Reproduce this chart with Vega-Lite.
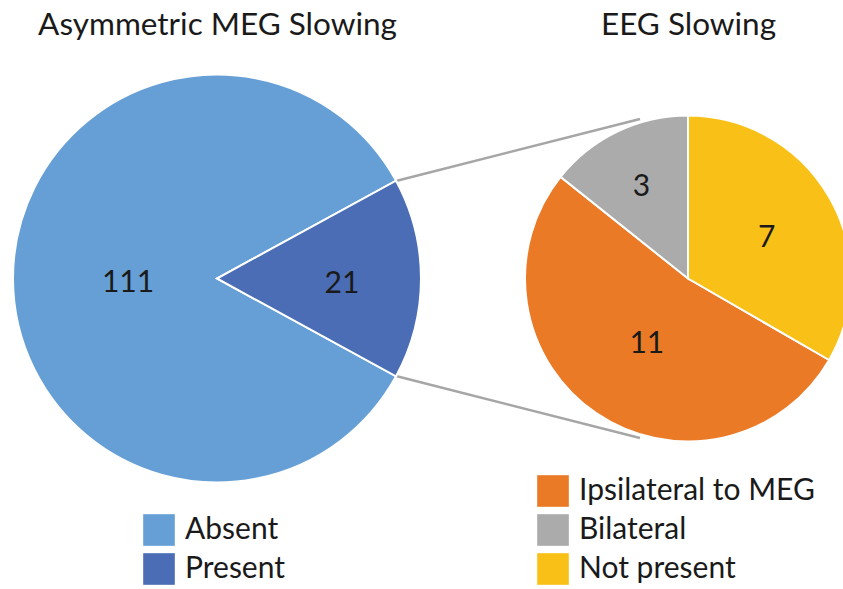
{
  "$schema": "https://vega.github.io/schema/vega-lite/v6.json",
  "width": 843,
  "height": 437,
  "autosize": {"type": "none"},
  "padding": {"left": 0, "top": 60, "right": 0, "bottom": 92},
  "background": "white",
  "config": {
    "view": {"stroke": null},
    "font": "Lato",
    "axis": {"domain": false, "ticks": false, "tickSize": 0, "grid": false, "labelFontSize": 31.5, "labelFont": "Lato", "labelColor": "#1a1a1a", "labelPadding": 19, "labelAngle": 0, "labelLimit": 0},
    "legend": {"labelFontSize": 30, "labelFont": "Lato", "labelColor": "#1a1a1a", "symbolType": "square", "symbolSize": 1000, "symbolStrokeWidth": 0, "symbolOpacity": 1, "labelOffset": 10, "rowPadding": 7, "padding": 0, "labelLimit": 0}
  },
  "encoding": {
    "x": {"field": "panel", "type": "nominal", "scale": {"type": "point", "domain": ["Asymmetric MEG Slowing", "EEG Slowing"], "padding": 0.3949, "align": 0.5833}, "axis": {"orient": "top", "title": null}}
  },
  "layer": [
    {
      "data": {"values": [{}]},
      "mark": {"type": "rule", "color": "#A6A6A6", "strokeWidth": 2.5, "xOffset": 179, "yOffset": -97.5, "x2Offset": -48, "y2Offset": -159.5},
      "encoding": {
        "x": {"datum": "Asymmetric MEG Slowing", "type": "nominal", "axis": {"orient": "top", "title": null}},
        "x2": {"datum": "EEG Slowing"},
        "y": {"datum": 0, "type": "quantitative", "scale": {"domain": [-1, 1]}, "axis": null},
        "y2": {"datum": 0}
      }
    },
    {
      "data": {"values": [{}]},
      "mark": {"type": "rule", "color": "#A6A6A6", "strokeWidth": 2.5, "xOffset": 179, "yOffset": 97.5, "x2Offset": -48, "y2Offset": 159.5},
      "encoding": {
        "x": {"datum": "Asymmetric MEG Slowing", "type": "nominal", "axis": {"orient": "top", "title": null}},
        "x2": {"datum": "EEG Slowing"},
        "y": {"datum": 0, "type": "quantitative", "scale": {"domain": [-1, 1]}, "axis": null},
        "y2": {"datum": 0}
      }
    },
    {
      "data": {"values": [
        {"panel": "Asymmetric MEG Slowing", "category": "Absent", "count": 111},
        {"panel": "Asymmetric MEG Slowing", "category": "Present", "count": 21}
      ]},
      "encoding": {
        "theta": {"field": "count", "type": "quantitative", "stack": true, "scale": {"range": [1.071, 7.3542]}},
        "order": {"field": "category", "sort": "descending"}
      },
      "layer": [
        {
          "mark": {"type": "arc", "outerRadius": 204, "stroke": "white", "strokeWidth": 2},
          "encoding": {
            "color": {"field": "category", "type": "nominal", "scale": {"domain": ["Absent", "Present"], "range": ["#659FD6", "#4A6DB6"]}, "legend": {"title": null, "orient": "none", "direction": "vertical", "legendX": 143, "legendY": 454}}
          }
        },
        {
          "mark": {"type": "text", "radius": 89, "fontSize": 30, "dy": 5, "color": "#1a1a1a", "align": "center", "baseline": "middle"},
          "encoding": {
            "detail": {"field": "category"},
            "text": {"condition": {"test": "datum.category === 'Absent'", "field": "count", "type": "quantitative"}, "value": ""}
          }
        },
        {
          "mark": {"type": "text", "radius": 125, "fontSize": 30, "dy": 5, "color": "#1a1a1a", "align": "center", "baseline": "middle"},
          "encoding": {
            "detail": {"field": "category"},
            "text": {"condition": {"test": "datum.category === 'Present'", "field": "count", "type": "quantitative"}, "value": ""}
          }
        }
      ]
    },
    {
      "data": {"values": [
        {"panel": "EEG Slowing", "category": "Ipsilateral to MEG", "count": 11},
        {"panel": "EEG Slowing", "category": "Bilateral", "count": 3},
        {"panel": "EEG Slowing", "category": "Not present", "count": 7}
      ]},
      "encoding": {
        "theta": {"field": "count", "type": "quantitative", "stack": true},
        "order": {"field": "category", "sort": "descending"}
      },
      "layer": [
        {
          "mark": {"type": "arc", "outerRadius": 163, "stroke": "white", "strokeWidth": 2},
          "encoding": {
            "color": {"field": "category", "type": "nominal", "scale": {"domain": ["Ipsilateral to MEG", "Bilateral", "Not present"], "range": ["#EA7A26", "#ABABAB", "#F9C117"]}, "legend": {"title": null, "orient": "none", "direction": "vertical", "legendX": 537, "legendY": 415}}
          }
        },
        {
          "mark": {"type": "text", "radius": 107, "fontSize": 30, "dy": 5, "color": "#1a1a1a", "align": "center", "baseline": "middle"},
          "encoding": {
            "detail": {"field": "category"},
            "text": {"condition": {"test": "datum.category === 'Bilateral'", "field": "count", "type": "quantitative"}, "value": ""}
          }
        },
        {
          "mark": {"type": "text", "radius": 91, "fontSize": 30, "dy": 5, "color": "#1a1a1a", "align": "center", "baseline": "middle"},
          "encoding": {
            "detail": {"field": "category"},
            "text": {"condition": {"test": "datum.category === 'Not present'", "field": "count", "type": "quantitative"}, "value": ""}
          }
        },
        {
          "mark": {"type": "text", "radius": 73, "fontSize": 30, "dy": 5, "color": "#1a1a1a", "align": "center", "baseline": "middle"},
          "encoding": {
            "detail": {"field": "category"},
            "text": {"condition": {"test": "datum.category === 'Ipsilateral to MEG'", "field": "count", "type": "quantitative"}, "value": ""}
          }
        }
      ]
    }
  ],
  "resolve": {"scale": {"theta": "independent", "color": "independent"}}
}
